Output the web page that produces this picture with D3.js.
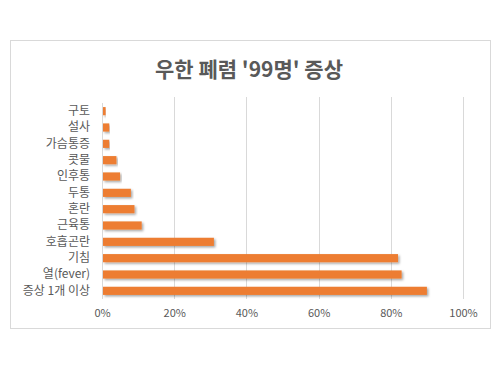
<!DOCTYPE html>
<html>
<head>
<meta charset="utf-8">
<script src="https://cdn.jsdelivr.net/npm/d3@7"></script>
<style>
  body { margin: 0; background: #fff; }
  #chart { width: 500px; height: 368px; }
  text { font-family: "Noto Sans CJK KR", "Noto Sans", sans-serif; fill: #595959; }
</style>
</head>
<body>
<div id="chart"></div>
<script>
// symptoms, top to bottom
const symptoms = ["구토", "설사", "가슴통증", "콧물", "인후통", "두통", "혼란", "근육통", "호흡곤란", "기침", "열(fever)", "증상 1개 이상"];
const shares = [1, 2, 2, 4, 5, 8, 9, 11, 31, 82, 83, 90];
const ticks = [0, 20, 40, 60, 80, 100];

const width = 500;
const height = 368;
const margin = {top: 103, left: 102, right: 37, bottom: 69};

const svg = d3.select("#chart")
    .append("svg")
    .attr("width", width)
    .attr("height", height);

// drop shadow for the bars
const filter = svg.append("defs").append("filter")
    .attr("id", "shadow")
    .attr("x", "-5%").attr("y", "-50%")
    .attr("width", "115%").attr("height", "250%");
filter.append("feDropShadow")
    .attr("dx", 1.5).attr("dy", 1.5)
    .attr("stdDeviation", 1.2)
    .attr("flood-color", "#000")
    .attr("flood-opacity", 0.35);

// chart frame
svg.append("rect")
    .attr("x", 10.5).attr("y", 40.5)
    .attr("width", 480).attr("height", 288)
    .attr("fill", "#fff")
    .attr("stroke", "#d9d9d9");

svg.append("text")
    .attr("x", 249)
    .attr("y", 77)
    .attr("text-anchor", "middle")
    .attr("font-size", 21)
    .attr("font-weight", "bold")
    .text("우한 폐렴 '99명' 증상");

const xScale = d3.scaleLinear()
    .domain([0, 100])
    .range([margin.left, width - margin.right]);

const yScale = d3.scaleBand()
    .domain(symptoms)
    .range([margin.top, height - margin.bottom])
    .paddingInner(0.5)
    .paddingOuter(0.25);

// gridlines
svg.append("g")
    .selectAll("line")
    .data(ticks.slice(1))
    .enter()
    .append("line")
        .attr("x1", d => Math.round(xScale(d)) + 0.5)
        .attr("x2", d => Math.round(xScale(d)) + 0.5)
        .attr("y1", 97)
        .attr("y2", height - margin.bottom)
        .attr("stroke", "#d9d9d9");

// x axis labels
const xAxis = svg.append("g")
    .attr("transform", `translate(0,${height - margin.bottom + 7})`)
    .call(d3.axisBottom(xScale).tickValues(ticks).tickFormat(d => d + "%").tickSize(0));
xAxis.select(".domain").remove();
xAxis.selectAll("text")
    .attr("font-size", 11)
    .attr("dy", "0.71em");

// y axis
const yAxis = svg.append("g")
    .attr("transform", `translate(${margin.left},0)`)
    .call(d3.axisLeft(yScale).tickSize(0).tickPadding(12));
yAxis.select(".domain").attr("stroke", "#d9d9d9").attr("d", `M0.5,${margin.top}V${height - margin.bottom}`);
yAxis.selectAll("text").attr("font-size", 12);

// bars
svg.append("g")
    .selectAll("rect")
    .data(symptoms)
    .enter()
    .append("rect")
        .attr("x", margin.left + 1)
        .attr("y", d => yScale(d))
        .attr("width", (d, i) => xScale(shares[i]) - margin.left - 1)
        .attr("height", yScale.bandwidth())
        .attr("fill", "#ed7d31")
        .attr("filter", "url(#shadow)");
</script>
</body>
</html>
